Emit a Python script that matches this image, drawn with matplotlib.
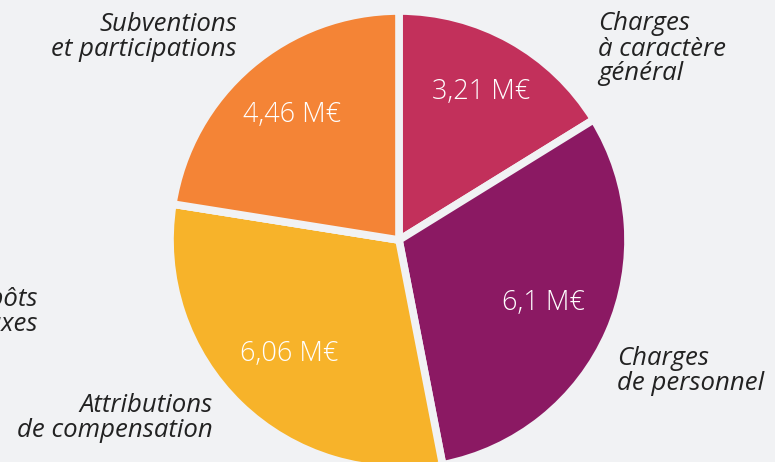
import numpy as np
import matplotlib.pyplot as plt

labels = ['Charges\nà caractère\ngénéral', 'Charges\nde personnel',
          'Attributions\nde compensation', 'Impôts\net taxes',
          'Subventions\net participations']
values = [3.21, 6.1, 6.06, 0.0, 4.46]
value_labels = ['3,21 M€', '6,1 M€', '6,06 M€', '', '4,46 M€']
colors = ['#C2305B', '#8B1963', '#F7B32A', '#F7B32A', '#F48436']

bg = '#F1F2F4'
plt.rcParams['font.family'] = ['Open Sans', 'DejaVu Sans']

fig = plt.figure(figsize=(7.75, 4.62), dpi=100, facecolor=bg)
ax = fig.add_axes([0, 0, 1, 1])
ax.set_facecolor(bg)

cx, cy, R = 399, 222, 229
wedges, _ = ax.pie(values, colors=colors, startangle=90, counterclock=False,
                   center=(cx, cy), radius=R, frame=True,
                   wedgeprops=dict(edgecolor=bg, linewidth=5.5))
ax.set_xlim(0, 775)
ax.set_ylim(0, 462)
ax.set_aspect('equal')
ax.axis('off')

# value labels inside slices
dists = [0.74, 0.69, 0.69, 0, 0.72]
for w, txt, d in zip(wedges, value_labels, dists):
    if not txt:
        continue
    ang = np.deg2rad((w.theta1 + w.theta2) / 2)
    ax.text(cx + d * R * np.cos(ang), cy + d * R * np.sin(ang), txt,
            color='white', fontsize=19.5, fontweight='light',
            ha='center', va='center')

# category labels around the pie
pos = [(598, 462 - 49, 'left'), (617, 462 - 371, 'left'),
       (213, 462 - 418, 'right'), (38, 462 - 312, 'right'),
       (237, 462 - 37, 'right')]
for lab, (x, y, ha) in zip(labels, pos):
    ax.text(x, y, lab, fontsize=18.5, style='italic', color='#222222',
            ha=ha, va='center', linespacing=1.0)

fig.savefig('out.png', dpi=100, facecolor=bg)
